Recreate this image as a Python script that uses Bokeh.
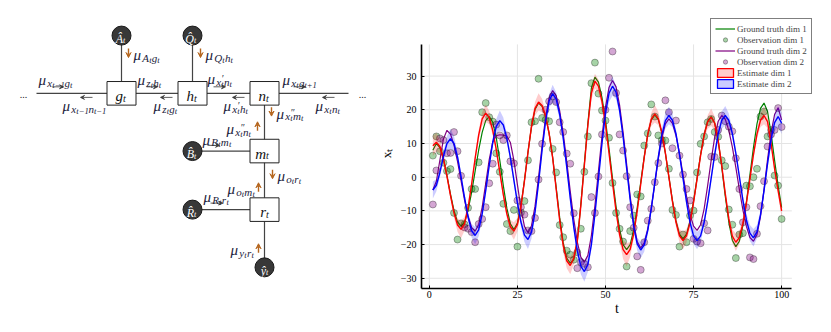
from bokeh.plotting import figure
from bokeh.layouts import row
from bokeh.models import (Range1d, FixedTicker, Legend, LegendItem, Arrow,
                          VeeHead, ColumnDataSource)
from bokeh.core.properties import value
from bokeh.embed import file_html
from bokeh.resources import INLINE

SERIF = "Liberation Serif"

# ---------------- data ----------------
t = list(range(1, 101))
x_ticks = [0, 25, 50, 75, 100]
y_ticks = [-30, -20, -10, 0, 10, 20, 30]
y_tick_labels = ["\u221230", "\u221220", "\u221210", "0", "10", "20", "30"]

gt1 = [8, 10, 8.8, 5.4, 0.5, -5.0, -9.9, -13.3, -14.5, -13.3,
       -9.8, -4.5, 1.8, 8.0, 13.3, 16.8, 18, 16.3, 11.7, 5.0,
       -2.5, -9.2, -13.8, -15.5, -13.6, -8.5, -0.9, 7.4, 15.0, 20.1,
       22, 21, 18, 13, 6, -3, -12, -19.5, -24, -25.5,
       -24.5, -19, -8, 4, 16, 26.5, 29.7, 28.2, 23.7, 16.9,
       8.6, -0.4, -8.7, -15.5, -20.0, -21.5, -20.0, -15.7, -9.1, -1.5,
       6.1, 12.7, 17.0, 18.5, 17.1, 13.1, 7.1, 0.1, -6.9, -12.9,
       -16.9, -18.3, -16.9, -13.0, -7.1, -0.2, 6.8, 12.7, 16.6, 18,
       16.1, 10.7, 3.0, -5.6, -13.3, -18.7, -20.6, -19.0, -14.4, -7.4,
       0.7, 8.8, 15.8, 20.4, 22, 19.5, 13, 5, -2.5, -9]

est1 = [9.3, 10.4, 9.1, 5.5, 0.3, -5.4, -10.6, -14.2, -15.5, -13.8,
        -9.0, -2.1, 5.6, 12.5, 17.3, 19, 17.7, 13.9, 8.2, 1.5,
        -5.2, -10.9, -14.7, -16, -14.1, -8.8, -1.1, 7.4, 15.1, 20.4,
        22.3, 21.3, 18.2, 13, 5.8, -3.5, -12.8, -20.3, -24.8, -26.2,
        -24, -19, -8.5, 3.5, 15.5, 25, 28.5, 27.0, 22.5, 15.6,
        7.2, -1.7, -10.1, -17.0, -21.5, -23, -21.4, -16.9, -10.1, -2.1,
        5.9, 12.7, 17.2, 18.8, 17.4, 13.3, 7.2, 0, -7.2, -13.3,
        -17.4, -18.8, -17.4, -13.5, -7.5, -0.5, 6.5, 12.5, 16.4, 17.8,
        16.0, 10.8, 3.4, -4.9, -12.3, -17.5, -19.3, -17.9, -13.8, -7.7,
        -0.5, 6.7, 12.8, 16.9, 18.3, 16.5, 10, 2.5, -4, -10]

sd1 = [3.0, 2.8, 2.0, 1.4, 1.2, 1.2, 1.4, 2.0, 2.6, 2.0,
       1.4, 1.2, 1.2, 1.4, 2.0, 2.6, 2.0, 1.4, 1.2, 1.2,
       1.2, 1.4, 2.0, 2.6, 2.0, 1.4, 1.2, 1.2, 1.4, 2.0,
       2.6, 2.0, 1.4, 1.2, 1.2, 1.2, 1.4, 2.0, 2.2, 2.6,
       2.0, 1.4, 1.2, 1.2, 1.4, 2.0, 2.2, 2.0, 1.4, 1.2,
       1.2, 1.2, 1.4, 2.0, 2.8, 3.5, 2.2, 1.4, 1.2, 1.2,
       1.2, 1.4, 2.0, 2.6, 2.0, 1.4, 1.2, 1.2, 1.2, 1.4,
       2.0, 2.6, 2.0, 1.4, 1.2, 1.2, 1.2, 1.4, 2.0, 2.6,
       2.0, 1.4, 1.2, 1.2, 1.4, 2.0, 2.6, 2.0, 1.4, 1.2,
       1.2, 1.2, 1.4, 2.0, 2.6, 2.0, 1.4, 1.2, 1.4, 2.0]

gt2 = [-3.8, -1.2, 5.1, 11.3, 13.9, 12.8, 9.5, 4.7, -1.0, -6.8,
       -11.6, -14.9, -16, -14.1, -8.9, -1.9, 5.2, 10.4, 12.3, 12.6,
       12.5, 12.2, 10.3, 5.0, -2.2, -9.3, -14.6, -16.5, -14.4, -8.6,
       -0.1, 9.3, 17.8, 23.6, 25.7, 24.2, 19.7, 13.0, 4.7, -4.2,
       -12.5, -19.2, -23.7, -25.2, -23.2, -17.3, -8.5, 1.8, 12.0, 20.8,
       26.6, 28.7, 26.8, 21.4, 13.3, 3.9, -5.6, -13.7, -19.1, -21,
       -19.5, -15.4, -9.2, -1.9, 5.5, 11.7, 15.8, 17.3, 16.0, 12.5,
       7.1, 0.8, -5.6, -11.0, -14.5, -15.8, -14.1, -9.4, -2.5, 5.0,
       11.9, 16.6, 18.3, 17.2, 13.9, 9.0, 2.9, -3.6, -9.7, -14.6,
       -17.9, -19, -17.0, -11.6, -3.6, 5.2, 13.2, 18.6, 20.6, 17]

est2 = [-3.8, -2.4, 1.4, 6.2, 10.0, 11.4, 10.0, 6.0, 0.2, -6.1,
        -11.9, -15.9, -17.3, -15.6, -10.9, -4.0, 3.5, 10.4, 15.1, 16.8,
        15.5, 11.6, 5.9, -0.9, -7.6, -13.3, -17.2, -18.5, -16.3, -10.4,
        -1.7, 8.0, 16.7, 22.6, 24.8, 23.2, 18.6, 11.6, 3.0, -6.2,
        -14.8, -21.8, -26.4, -28, -25.9, -20.0, -11.0, -0.5, 10.0, 19.0,
        24.9, 27, 25.2, 19.9, 12.0, 2.7, -6.6, -14.5, -19.8, -21.6,
        -20.1, -15.8, -9.3, -1.7, 6.0, 12.5, 16.8, 18.3, 16.9, 12.9,
        6.8, -0.3, -7.3, -13.4, -17.4, -18.8, -17.4, -13.4, -7.3, -0.3,
        6.8, 12.9, 16.9, 18.3, 16.9, 13.0, 7.1, 0.2, -6.8, -12.7,
        -16.6, -18, -16.2, -11.2, -4.0, 4.0, 11.2, 16.2, 18, 16]

sd2 = [2.5, 1.8, 1.4, 1.4, 2.2, 3.0, 2.2, 1.4, 1.2, 1.2,
       1.4, 2.0, 2.6, 2.0, 1.4, 1.2, 1.2, 1.4, 2.2, 3.0,
       2.2, 1.4, 1.2, 1.2, 1.2, 1.4, 2.0, 2.8, 2.0, 1.4,
       1.2, 1.2, 1.4, 2.0, 2.6, 2.0, 1.4, 1.2, 1.2, 1.2,
       1.4, 2.0, 2.4, 3.0, 2.2, 1.4, 1.2, 1.2, 1.4, 2.0,
       2.6, 2.8, 2.0, 1.4, 1.2, 1.2, 1.2, 1.4, 2.0, 2.4,
       2.0, 1.4, 1.2, 1.2, 1.4, 2.0, 2.4, 2.6, 2.0, 1.4,
       1.2, 1.2, 1.4, 2.0, 2.4, 2.6, 2.0, 1.4, 1.2, 1.2,
       1.4, 2.0, 2.6, 2.8, 2.0, 1.4, 1.2, 1.2, 1.4, 2.0,
       2.4, 2.6, 2.0, 1.4, 1.2, 1.4, 2.0, 2.6, 3.0, 3.2]

obs1 = [6.4, 12.1, 7.7, 4.3, 1.8, 2.4, -10.6, -18.5, -13.7, -14,
        -9.1, -3.5, -3.5, 4.4, 19.3, 22, 17.8, 16.5, 7.1, 1.6,
        -7.9, -13.9, -16, -9.7, -20.6, -10.5, -7.1, 5.0, 16.3, 16.6,
        29.2, 17.6, 17, 16.6, 8.4, 1.4, -14.2, -17.8, -21.8, -23,
        -24.5, -22.3, -15.3, 1.6, 12.1, 27.9, 34, 24.8, 19.8, 16.8,
        11.7, -1.7, -10.6, -15.3, -19.1, -26.5, -16, -11.4, -5.1, -5.7,
        9.4, 13, 21.6, 18, 12.4, 11, 10.9, 2.5, -9.7, -11.2,
        -20.6, -17, -19.3, -11.4, -9.9, 1.4, 9.9, 12.1, 16.3, 17.3,
        13.4, 12, 5, 3.3, -9.6, -14.1, -24, -17, -16.6, -2.5,
        -2.7, 0, 2.5, 18, 19.5, 12.1, 14, 0.5, -2.5, -12.4]

obs2 = [-8.1, 2.0, 11.5, 11, 7.1, 7.2, 13.4, 7.7, 0.4, -14.9,
        -15.3, -16.3, -19.3, -13.9, -12.4, -8.9, -1.8, 4, 15.6, 12.4,
        11, 12.4, 4.7, 4.1, -6.9, -8.9, -11.1, -15.8, -16, -12.1,
        -0.7, 9.9, 20, 22.5, 24, 22.3, 16.3, 13.4, 7, 4,
        -10.7, -27, -25.2, -25.7, -26.7, -5.9, -10.6, 0.2, 12.7, 20,
        29.5, 37.3, 25, 12.7, 7.9, 0.3, -8.9, -15, -23.5, -27.5,
        -19.3, -12.9, -9.4, -1.5, 4.2, 10, 22.8, 19.3, 8.6, 16.8,
        6.4, 0.8, -3.5, -6.9, -18.3, -19.1, -19.6, -13.7, -15.8, 6.1,
        6, 14, 18.3, 16.6, 15, 13.6, 5.6, -3.5, -13.4, -8.9,
        -23.8, -24.3, -16.8, -8.6, -1.2, 9.1, 12.7, 14, 20.5, 14.9]

legend_labels = ["Ground truth dim 1", "Observation dim 1", "Ground truth dim 2",
                 "Observation dim 2", "Estimate dim 1", "Estimate dim 2"]

# ---------------- factor graph diagram ----------------
factor_names = ["g", "h", "n", "m", "r"]
factor_x = [121, 192, 264, 264, 264]
factor_y = [92, 92, 92, 163, 235]
var_names = ["\u00c2", "Q\u0302", "B\u0302", "R\u0302", "\u0177"]
var_x = [121, 192, 192, 192, 264]
var_y = [21, 21, 163, 235, 306]

d = figure(width=375, height=332, x_range=Range1d(0, 375), y_range=Range1d(332, 0),
           output_backend="svg", toolbar_location=None, min_border=0,
           x_axis_location=None, y_axis_location=None)
d.grid.visible = False
d.outline_line_color = None

edge_x0 = [36, 121, 192, 264, 192, 192]
edge_y0 = [92, 21, 21, 92, 163, 235]
edge_x1 = [348, 121, 192, 264, 264, 264]
edge_y1 = [92, 77, 77, 306, 163, 235]
d.segment(edge_x0, edge_y0, edge_x1, edge_y1, line_color="#444444", line_width=1.2)
d.rect(factor_x, factor_y, width=29, height=29, fill_color="white",
       line_color="#222222", line_width=1)
d.circle(var_x, var_y, radius=9.5, fill_color="#383838", line_color="#1a1a1a", line_width=1)

SER = dict(text_font=value(SERIF), text_font_style="italic")
d.text([x + 1.5 for x in factor_x], [y + 3 for y in factor_y], text=factor_names,
       text_font_size="15px", text_align="right", text_baseline="alphabetic",
       text_color="#111111", **SER)
d.text([x + 1.5 for x in factor_x], [y + 6 for y in factor_y], text=["t"] * 5,
       text_font_size="10px", text_align="left", text_baseline="alphabetic",
       text_color="#111111", **SER)
d.text([x + 1.5 for x in var_x], [y + 4 for y in var_y], text=var_names,
       text_font_size="12px", text_align="right", text_baseline="alphabetic",
       text_color="white", **SER)
d.text([x + 1.5 for x in var_x], [y + 6.5 for y in var_y], text=["t"] * 5,
       text_font_size="8px", text_align="left", text_baseline="alphabetic",
       text_color="white", **SER)
d.text([23, 362], [93, 93], text=["...", "..."], text_font_size="10px",
       text_align="center", text_baseline="middle", text_color="#222222",
       text_font=value(SERIF))

W = {"\u03bc": .58, "x": .47, "g": .5, "n": .5, "t": .3, "z": .42, "h": .5, "A": .64,
     "Q": .74, "B": .64, "o": .5, "r": .42, "R": .64, "y": .47, "m": .74,
     "\u2032": .22, "\u2033": .4, "\u2212": .62, "+": .62, "1": .5}


def B(s):
    return (s, 15, 0, True)


def S(s):
    return (s, 11, 3, True)


def SS(s):
    return (s, 8.5, 5.5, True)


def P(s):
    return (s, 10, -1.5, False)


lab = dict(x=[], y=[], text=[], size=[])


def put(x0, y0, parts):
    x = x0
    for s, fs, dy, adv in parts:
        lab["x"].append(x)
        lab["y"].append(y0 + dy)
        lab["text"].append(s)
        lab["size"].append(f"{fs}px")
        if adv:
            x += sum(W.get(c, .5) for c in s) * fs


MU = "\u03bc"
TM = "t\u22121"
put(38, 76, [B(MU), S("x"), SS(TM), S("g"), SS("t")])
put(137, 76, [B(MU), S("z"), SS("t"), S("h"), SS("t")])
put(207, 75, [B(MU), S("x"), P("\u2032"), SS("t"), S("n"), SS("t")])
put(282, 76, [B(MU), S("x"), SS("t"), S("g"), SS("t+1")])
put(62, 108, [B(MU), S("x"), SS(TM), S("n"), SS(TM)])
put(153, 108, [B(MU), S("z"), SS("t"), S("g"), SS("t")])
put(223, 108, [B(MU), S("x"), P("\u2032"), SS("t"), S("h"), SS("t")])
put(315, 108, [B(MU), S("x"), SS("t"), S("n"), SS("t")])
put(133, 45, [B(MU), S("A"), SS("t"), S("g"), SS("t")])
put(205, 45, [B(MU), S("Q"), SS("t"), S("h"), SS("t")])
put(276, 117, [B(MU), S("x"), P("\u2033"), SS("t"), S("m"), SS("t")])
put(226, 136, [B(MU), S("x"), P("\u2033"), SS("t"), S("n"), SS("t")])
put(202, 149, [B(MU), S("B"), SS("t"), S("m"), SS("t")])
put(277, 194, [B(MU), S("o"), SS("t"), S("r"), SS("t")])
put(227, 210, [B(MU), S("o"), SS("t"), S("m"), SS("t")])
put(203, 220, [B(MU), S("R"), SS("t"), S("r"), SS("t")])
put(230, 285, [B(MU), S("y"), SS("t"), S("r"), SS("t")])

d.text(x="x", y="y", text="text", source=ColumnDataSource(lab), text_font_size="size",
       text_align="left", text_baseline="alphabetic", text_color="#1c1c3c", **SER)

harrows = [(52, 63, 84), (146, 157, 84), (213, 225, 84), (293, 305, 84),
           (207, 219, 156), (210, 222, 227),
           (92, 80, 97), (172, 160, 97), (244, 232, 97), (334, 322, 97)]
for xs, xe, yy in harrows:
    d.add_layout(Arrow(x_start=xs, y_start=yy, x_end=xe, y_end=yy, line_width=0.8,
                       line_color="#333333",
                       end=VeeHead(size=4, line_color="#333333", line_width=0.8,
                                   fill_color="#333333")))
varrows = [(128, 37, 48), (200, 37, 48), (271, 109, 120), (257, 138, 127),
           (272, 186, 197), (258, 213, 202), (258, 288, 277)]
for xx, ys, ye in varrows:
    d.add_layout(Arrow(x_start=xx, y_start=ys, x_end=xx, y_end=ye, line_width=1.4,
                       line_color="#b5651d",
                       end=VeeHead(size=5, line_color="#b5651d", line_width=1,
                                   fill_color="#b5651d")))

# ---------------- time-series plot ----------------
X_LO, X_HI = -2.225, 102.9     # drawn extent of the axes
Y_LO, Y_HI = -33.03, 39.4
p = figure(width=456, height=332, x_range=Range1d(X_LO, 108.76), y_range=Range1d(Y_LO, 47.09),
           output_backend="svg", toolbar_location=None,
           min_border_left=38, min_border_right=19, min_border_top=18, min_border_bottom=44)
p.outline_line_color = None
p.background_fill_color = "white"
p.grid.visible = False
p.xaxis.ticker = FixedTicker(ticks=x_ticks)
p.yaxis.ticker = FixedTicker(ticks=y_ticks)
p.yaxis.major_label_overrides = {v: s for v, s in zip(y_ticks, y_tick_labels)}
p.xaxis.bounds = (X_LO, X_HI)
p.yaxis.bounds = (Y_LO, Y_HI)
for ax in (p.xaxis[0], p.yaxis[0]):
    ax.axis_line_width = 1.6
    ax.axis_line_color = "black"
    ax.major_tick_in = 3
    ax.major_tick_out = 0
    ax.major_tick_line_color = "black"
    ax.minor_tick_line_color = None
    ax.major_label_text_font = SERIF
    ax.major_label_text_font_size = "10px"
    ax.major_label_text_color = "black"
    ax.axis_label_text_font = SERIF
    ax.axis_label_text_font_style = "normal"
    ax.axis_label_text_color = "black"
p.xaxis.axis_label = "t"
p.xaxis.axis_label_text_font_size = "14px"
p.xaxis.major_label_standoff = 2
p.xaxis.axis_label_standoff = 0
p.yaxis.axis_label = "x\u209c"
p.yaxis.axis_label_text_font_size = "13px"
p.yaxis.major_label_standoff = 5
p.yaxis.axis_label_standoff = 4

# grid lines, limited to the axes' extent
p.segment(x0=x_ticks, y0=[Y_LO] * len(x_ticks), x1=x_ticks, y1=[Y_HI] * len(x_ticks),
          line_color="#e4e4e4", line_width=1)
p.segment(x0=[X_LO] * len(y_ticks), y0=y_ticks, x1=[X_HI] * len(y_ticks), y1=y_ticks,
          line_color="#e4e4e4", line_width=1)

r_gt1 = p.line(t, gt1, line_color="green", line_width=1.2)
r_ob1 = p.scatter(t, obs1, size=7, fill_color="green", fill_alpha=0.35,
                  line_color="black", line_alpha=0.3)
r_gt2 = p.line(t, gt2, line_color="purple", line_width=1.2)
r_ob2 = p.scatter(t, obs2, size=7, fill_color="purple", fill_alpha=0.35,
                  line_color="black", line_alpha=0.3)

lo1 = [e - s for e, s in zip(est1, sd1)]
hi1 = [e + s for e, s in zip(est1, sd1)]
lo2 = [e - s for e, s in zip(est2, sd2)]
hi2 = [e + s for e, s in zip(est2, sd2)]
p.varea(x=t, y1=lo1, y2=hi1, fill_color="red", fill_alpha=0.2)
p.line(t, est1, line_color="red", line_width=1.4)
p.varea(x=t, y1=lo2, y2=hi2, fill_color="blue", fill_alpha=0.2)
p.line(t, est2, line_color="blue", line_width=1.4)

# legend swatches (zero-size quads at the first estimate point: only their legend glyph shows)
k1 = p.quad(left=t[:1], right=t[:1], top=est1[:1], bottom=est1[:1], fill_color="red",
            fill_alpha=0.2, line_color="red", line_width=1.3)
k2 = p.quad(left=t[:1], right=t[:1], top=est2[:1], bottom=est2[:1], fill_color="blue",
            fill_alpha=0.2, line_color="blue", line_width=1.3)

items = [LegendItem(label=lbl, renderers=[r])
         for lbl, r in zip(legend_labels, [r_gt1, r_ob1, r_gt2, r_ob2, k1, k2])]
leg = Legend(items=items, location=(289, 194), border_line_color="black",
             border_line_width=1, background_fill_color="white", background_fill_alpha=1,
             label_text_font=SERIF, label_text_font_size="9px", glyph_width=20,
             glyph_height=11, label_height=11, spacing=0, padding=4, label_standoff=2,
             margin=0)
p.add_layout(leg, "center")

layout = row(d, p)
open("out.html", "w").write(file_html(layout, INLINE))
